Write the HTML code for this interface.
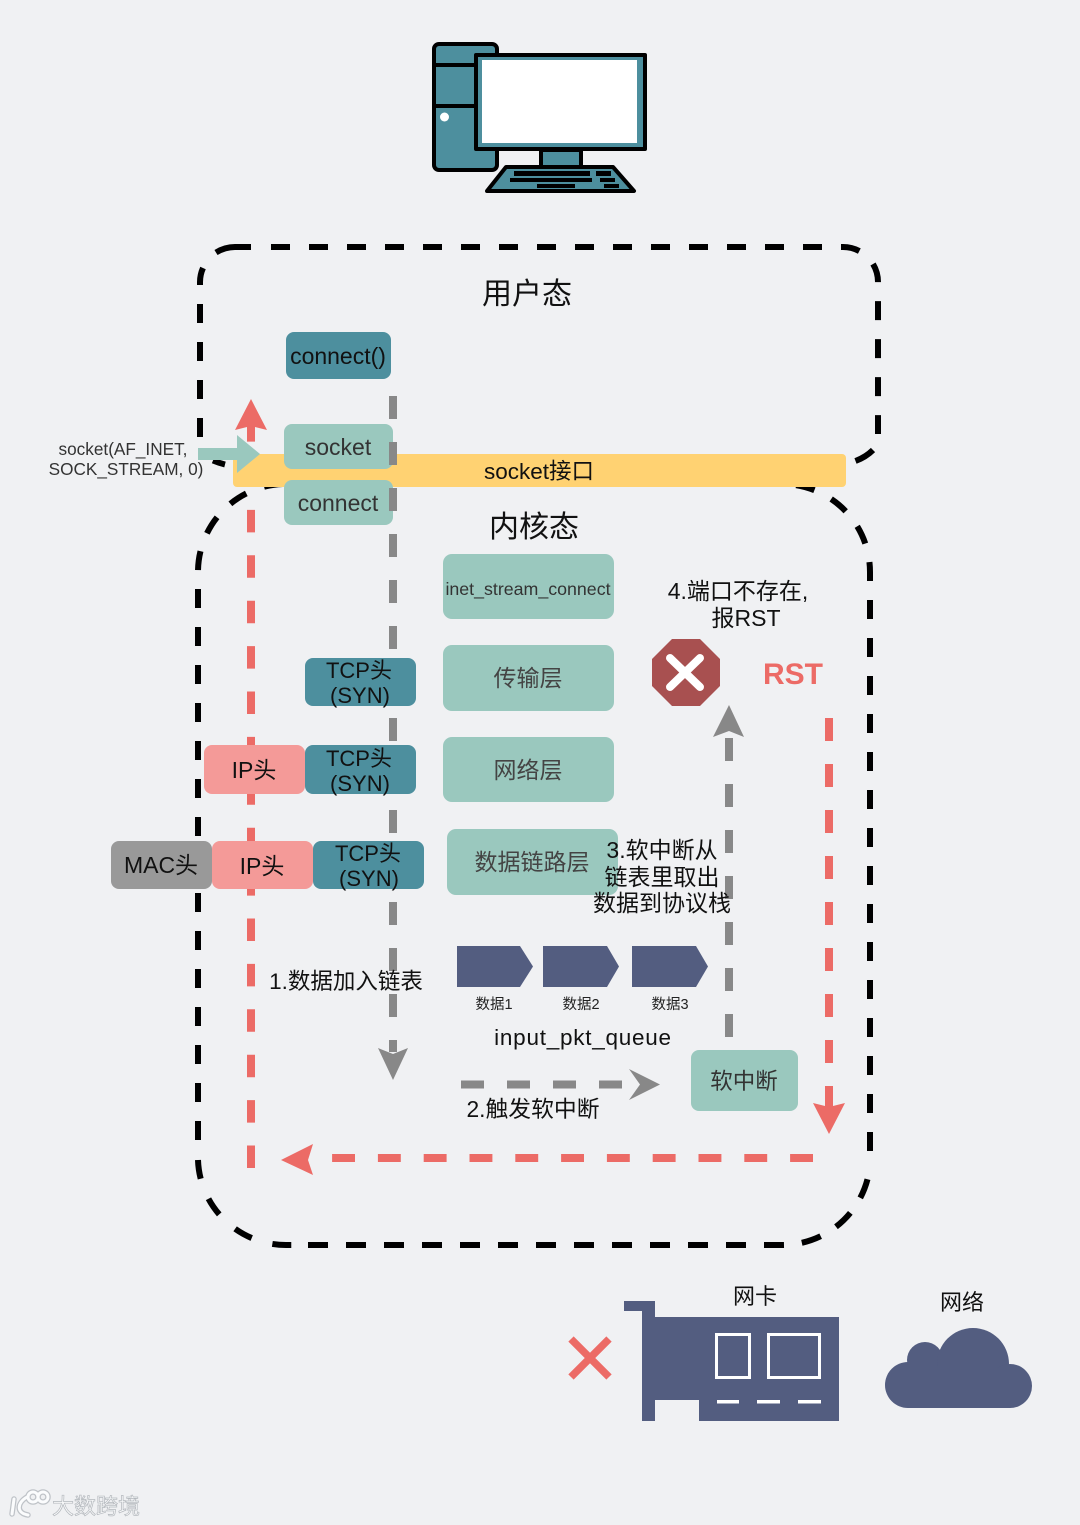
<!DOCTYPE html>
<html><head><meta charset="utf-8"><style>
html,body{margin:0;padding:0;background:#f0f1f3}
svg{display:block}
text{font-family:"Liberation Sans","Noto Sans CJK SC",sans-serif;fill:#111;text-anchor:middle}
</style></head><body>
<svg width="1080" height="1525" viewBox="0 0 1080 1525" xmlns="http://www.w3.org/2000/svg">
<rect width="1080" height="1525" fill="#f0f1f3"/>
<!-- computer -->
<g stroke="#000" stroke-width="4" stroke-linejoin="round">
<rect x="434" y="44" width="63" height="126" rx="5" fill="#4d8f9e"/>
<path d="M434 65H480M434 106H480" fill="none"/>
<rect x="476" y="55" width="169" height="94" fill="#4d8f9e"/>
<rect x="541" y="150" width="40" height="17" fill="#4d8f9e"/>
<path d="M506 167H613L634 191H487Z" fill="#4d8f9e"/>
</g>
<rect x="482" y="60" width="155" height="83" fill="#fff"/>
<circle cx="444.500" cy="117" r="4.500" fill="#fff"/>
<g fill="#000"><rect x="514" y="171" width="76" height="5"/><rect x="596" y="171" width="15" height="5"/><rect x="510" y="178" width="82" height="4"/><rect x="600" y="178" width="15" height="4"/><rect x="537" y="184" width="38" height="4"/><rect x="604" y="184" width="15" height="4"/></g>

<!-- user space boundary -->
<g fill="none" stroke="#000" stroke-width="6">
<path d="M271 247H843A35 35 0 0 1 878 282V434" stroke-dasharray="19 19"/>
<path d="M855.500 461Q866 457 873 450"/>
<path d="M200 437V282A35 35 0 0 1 203 268" stroke-dasharray="19 19"/>
<path d="M216 252.500Q225 247 235 247H251"/>
<path d="M213 460.500Q219 463 225 464.500"/>
<!-- kernel boundary -->
<path d="M308 1245H782A88 88 0 0 0 868.500 1175" stroke-dasharray="20 18"/>
<path d="M870 1151V572A88 88 0 0 0 782 484H760" stroke-dasharray="19 19"/>
<path d="M198 1140V572A88 88 0 0 1 286 484" stroke-dasharray="19 19"/>
<path d="M198 1160A88 88 0 0 0 286 1245H308" stroke-dasharray="19 21.500"/>
</g>

<!-- red vertical runs beneath the yellow bar -->
<path d="M251 1168V418" fill="none" stroke="#ec6b66" stroke-width="8" stroke-dasharray="22.500 22.900"/>

<rect x="233" y="454" width="613" height="33" rx="4" fill="#ffd272"/>

<!-- red lines -->
<g fill="none" stroke="#ec6b66" stroke-width="8">
<path d="M829 718V1110" stroke-dasharray="23 23"/>
<path d="M813 1158H325" stroke-dasharray="22.900 22.900"/>
</g>
<g fill="#ec6b66">
<path d="M251 399L267 430L251 426L235 430Z"/>
<path d="M829 1134L845 1103L829 1107L813 1103Z"/>
<path d="M281 1160L313 1144L308 1160L313 1175Z"/>
</g>

<!-- gray lines -->
<g fill="none" stroke="#888" stroke-width="8">
<path d="M393 396V1052" stroke-dasharray="23 23"/>
<path d="M729 1037V738" stroke-dasharray="23 23"/>
<path d="M461 1084.500H635" stroke-dasharray="23 23"/>
</g>
<g fill="#888">
<path d="M393 1080L378 1048L393 1054L408 1048Z"/>
<path d="M729 705L744 737L729 731L713 737Z"/>
<path d="M660 1084.500L629 1069L640 1084.500L629 1100Z"/>
</g>

<!-- boxes -->
<rect x="286" y="332" width="105" height="47" rx="8" fill="#4d8f9e"/>
<rect x="284" y="424" width="109" height="45" rx="8" fill="#9ac8be"/>
<rect x="284" y="480" width="109" height="45" rx="8" fill="#9ac8be"/>
<rect x="389" y="442" width="8" height="23" fill="#888"/>
<rect x="389" y="488" width="8" height="23" fill="#888"/>
<path d="M198 448H237V435L260 454L237 473V460H198Z" fill="#9ac8be"/>

<rect x="443" y="554" width="171" height="65" rx="9" fill="#9ac8be"/>
<rect x="443" y="645" width="171" height="66" rx="9" fill="#9ac8be"/>
<rect x="443" y="737" width="171" height="65" rx="9" fill="#9ac8be"/>
<rect x="447" y="829" width="171" height="66" rx="9" fill="#9ac8be"/>
<rect x="691" y="1050" width="107" height="61" rx="8" fill="#9ac8be"/>

<rect x="305" y="658" width="111" height="48" rx="8" fill="#4d8f9e"/>
<rect x="305" y="745" width="111" height="49" rx="8" fill="#4d8f9e"/>
<rect x="313" y="841" width="111" height="48" rx="8" fill="#4d8f9e"/>
<rect x="204" y="745" width="101" height="49" rx="8" fill="#f49a98"/>
<rect x="212" y="841" width="101" height="48" rx="8" fill="#f49a98"/>
<rect x="111" y="841" width="101" height="48" rx="8" fill="#999"/>

<!-- queue -->
<g fill="#535d80">
<path d="M457 946H520L533 966.500L520 987H457Z"/>
<path d="M543 946H607L619 966.500L607 987H543Z"/>
<path d="M632 946H696L708 966.500L696 987H632Z"/>
</g>

<!-- stop -->
<path d="M672 639H700L720 659V686L700 706H672L652 686V659Z" fill="#a85050"/>
<path d="M670 658L700 687M700 658L670 687" stroke="#fff" stroke-width="8" stroke-linecap="round"/>

<!-- NIC -->
<path d="M624 1301H655V1317H839V1421H699V1400H655V1421H642V1311H624Z" fill="#535d80"/>
<g fill="none" stroke="#fff" stroke-width="3">
<rect x="716.500" y="1334.500" width="33" height="43"/>
<rect x="768.500" y="1334.500" width="51" height="43"/>
</g>
<g fill="#fff"><rect x="717" y="1400" width="22" height="3.500"/><rect x="757" y="1400" width="23" height="3.500"/><rect x="798" y="1400" width="23" height="3.500"/></g>
<path d="M571 1339L609 1377M609 1339L571 1377" stroke="#ec6b66" stroke-width="7.500" fill="none"/>

<!-- cloud -->
<g fill="#535d80">
<circle cx="908" cy="1385" r="23"/>
<circle cx="925" cy="1360" r="18"/>
<circle cx="973" cy="1364" r="36"/>
<circle cx="1010" cy="1386" r="22"/>
<rect x="908" y="1368" width="102" height="40"/>
</g>

<!-- watermark -->
<g fill="none" stroke="#bfc3c8" stroke-width="5.500" stroke-linecap="round"><path d="M14 1499L12 1514M27 1497C17 1503 16 1513 28 1515"/><circle cx="33" cy="1497" r="5"/><circle cx="43" cy="1497" r="5"/></g>
<g fill="none" stroke="#fbfcfd" stroke-width="3" stroke-linecap="round"><path d="M14 1499L12 1514M27 1497C17 1503 16 1513 28 1515"/><circle cx="33" cy="1497" r="5"/><circle cx="43" cy="1497" r="5"/></g>
<text x="96" y="1514" font-size="22" style="fill:#f7f8f9;stroke:#b4b8bd;stroke-width:.7">大数跨境</text>

<!-- labels -->
<text x="527" y="304" font-size="30">用户态</text>
<text x="338" y="364" font-size="23">connect()</text>
<text x="338" y="455" font-size="23" style="fill:#333">socket</text>
<text x="338" y="511" font-size="23" style="fill:#333">connect</text>
<text x="123" y="455" font-size="17.200" style="fill:#333">socket(AF_INET,</text>
<text x="126" y="475" font-size="17.200" style="fill:#333">SOCK_STREAM, 0)</text>
<text x="539" y="479" font-size="22.500">socket接口</text>
<text x="534" y="537" font-size="30">内核态</text>
<text x="528" y="595" font-size="17.800" style="fill:#333">inet_stream_connect</text>
<text x="738" y="599" font-size="23">4.端口不存在,</text>
<text x="746" y="626" font-size="23">报RST</text>
<text x="528" y="686" font-size="23" style="fill:#444">传输层</text>
<text x="528" y="778" font-size="23" style="fill:#444">网络层</text>
<text x="532" y="870" font-size="23" style="fill:#444">数据链路层</text>
<text x="793" y="684" font-size="30" font-weight="bold" style="fill:#ec6b66">RST</text>
<text x="359" y="678" font-size="22">TCP头</text>
<text x="360" y="703" font-size="22">(SYN)</text>
<text x="359" y="766" font-size="22">TCP头</text>
<text x="360" y="791" font-size="22">(SYN)</text>
<text x="368" y="861" font-size="22">TCP头</text>
<text x="369" y="886" font-size="22">(SYN)</text>
<text x="254" y="778" font-size="23">IP头</text>
<text x="262" y="874" font-size="23">IP头</text>
<text x="161" y="873" font-size="23">MAC头</text>
<text x="662" y="858" font-size="23">3.软中断从</text>
<text x="662" y="885" font-size="23">链表里取出</text>
<text x="662" y="911" font-size="23">数据到协议栈</text>
<text x="346" y="989" font-size="22.500">1.数据加入链表</text>
<text x="494" y="1009" font-size="14.500" style="fill:#222">数据1</text>
<text x="581" y="1009" font-size="14.500" style="fill:#222">数据2</text>
<text x="670" y="1009" font-size="14.500" style="fill:#222">数据3</text>
<text x="583" y="1045" font-size="22.500" letter-spacing="0.750">input_pkt_queue</text>
<text x="533" y="1117" font-size="22.800">2.触发软中断</text>
<text x="744" y="1089" font-size="22.500" style="fill:#333">软中断</text>
<text x="755" y="1304" font-size="22">网卡</text>
<text x="962" y="1310" font-size="22">网络</text>
</svg>
</body></html>
